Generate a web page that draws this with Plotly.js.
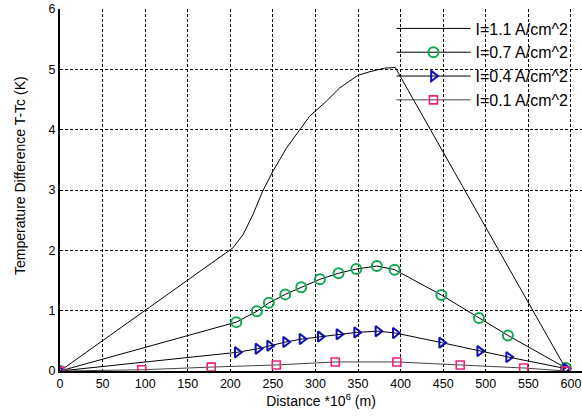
<!DOCTYPE html>
<html>
<head>
<meta charset="utf-8">
<script src="https://cdn.plot.ly/plotly-3.0.1.min.js"></script>
<style>
html,body{margin:0;padding:0;background:#fff;}
#chart{width:582px;height:416px;}
</style>
</head>
<body>
<div id="chart"></div>
<script>
// Series I = 1.1 A/cm^2 (line only)
var x11 = [0, 199, 203, 215, 226.5, 238, 250, 265.7, 281.3, 293, 312.7, 328.3, 349.8, 363.6, 381.2, 393.7, 593.5];
var y11 = [0, 2.01, 2.04, 2.26, 2.59, 2.98, 3.31, 3.69, 4.00, 4.22, 4.47, 4.69, 4.90, 4.96, 5.02, 5.03, 0.05];
// Series I = 0.7 A/cm^2 (circles)
var x07 = [0, 207, 231.2, 245.3, 264.5, 283.3, 305.2, 327.1, 347.9, 372.1, 392.9, 447.8, 492, 526, 594];
var y07 = [0, 0.81, 0.99, 1.13, 1.27, 1.39, 1.52, 1.62, 1.69, 1.74, 1.68, 1.26, 0.88, 0.59, 0.05];
// Series I = 0.4 A/cm^2 (triangles)
var x04 = [0, 208.1, 232.4, 246.1, 264.9, 284.1, 305.6, 327.5, 348.3, 373.3, 393.7, 448.1, 492.8, 526.8, 594];
var y04 = [0, 0.31, 0.37, 0.42, 0.48, 0.53, 0.57, 0.61, 0.64, 0.66, 0.63, 0.47, 0.33, 0.23, 0.04];
// Series I = 0.1 A/cm^2 (squares)
var x01 = [0, 96, 177.6, 254, 323.3, 395.6, 470, 544.5, 594];
var y01 = [0, 0.02, 0.065, 0.10, 0.15, 0.15, 0.10, 0.05, 0.0];

var names = ['I=1.1 A/cm^2', 'I=0.7 A/cm^2', 'I=0.4 A/cm^2', 'I=0.1 A/cm^2'];
var xTicks = [0, 50, 100, 150, 200, 250, 300, 350, 400, 450, 500, 550, 600];
var yTicks = [0, 1, 2, 3, 4, 5, 6];
var xTitle = 'Distance *10<sup>6</sup> (m)';
var yTitle = 'Temperature Difference T-Tc (K)';

var traces = [
  {x: x11, y: y11, name: names[0], mode: 'lines', line: {color: '#000', width: 1}},
  {x: x07, y: y07, name: names[1], mode: 'lines+markers', line: {color: '#000', width: 1},
   marker: {symbol: 'circle-open', size: 10, color: '#10a850', line: {width: 2, color: '#10a850'}}},
  {x: x04, y: y04, name: names[2], mode: 'lines+markers', line: {color: '#000', width: 1},
   marker: {symbol: 'triangle-right-open', size: 9, color: '#1010b0', line: {width: 2, color: '#1010b0'}}},
  {x: x01, y: y01, name: names[3], mode: 'lines+markers', line: {color: '#444', width: 1},
   marker: {symbol: 'square-open', size: 8, color: '#f0207f', line: {width: 1.6, color: '#f0207f'}}}
];

var layout = {
  width: 582, height: 416,
  margin: {l: 60, r: 0, t: 9, b: 45, pad: 0},
  paper_bgcolor: '#fff', plot_bgcolor: '#fff',
  font: {family: 'Liberation Sans, Arial, sans-serif', color: '#000', size: 12},
  showlegend: true,
  legend: {x: 0.635, y: 0.993, xanchor: 'left', yanchor: 'top', bgcolor: 'rgba(0,0,0,0)',
           borderwidth: 0, font: {size: 16, color: '#000'}, itemwidth: 74},
  xaxis: {
    range: [0, 613], tickvals: xTicks, ticktext: xTicks.map(String),
    showgrid: true, gridcolor: '#000', gridwidth: 1, griddash: '3px,2px',
    zeroline: false, showline: true, linecolor: '#000', linewidth: 2,
    ticks: '', tickfont: {size: 12.5},
    title: {text: xTitle, font: {size: 14}, standoff: 3}
  },
  yaxis: {
    range: [0, 6], tickvals: yTicks, ticktext: yTicks.map(String),
    showgrid: true, gridcolor: '#000', gridwidth: 1, griddash: '3px,2px',
    zeroline: false, showline: true, linecolor: '#000', linewidth: 2,
    ticks: '', tickfont: {size: 12.5}
  },
  annotations: [
    {text: yTitle, xref: 'paper', yref: 'paper', x: -0.0766, y: 0.5387,
     xanchor: 'center', yanchor: 'middle', textangle: -90, showarrow: false,
     font: {size: 14, color: '#000'}}
  ]
};

Plotly.newPlot('chart', traces, layout, {displayModeBar: false, staticPlot: true});
</script>
</body>
</html>
